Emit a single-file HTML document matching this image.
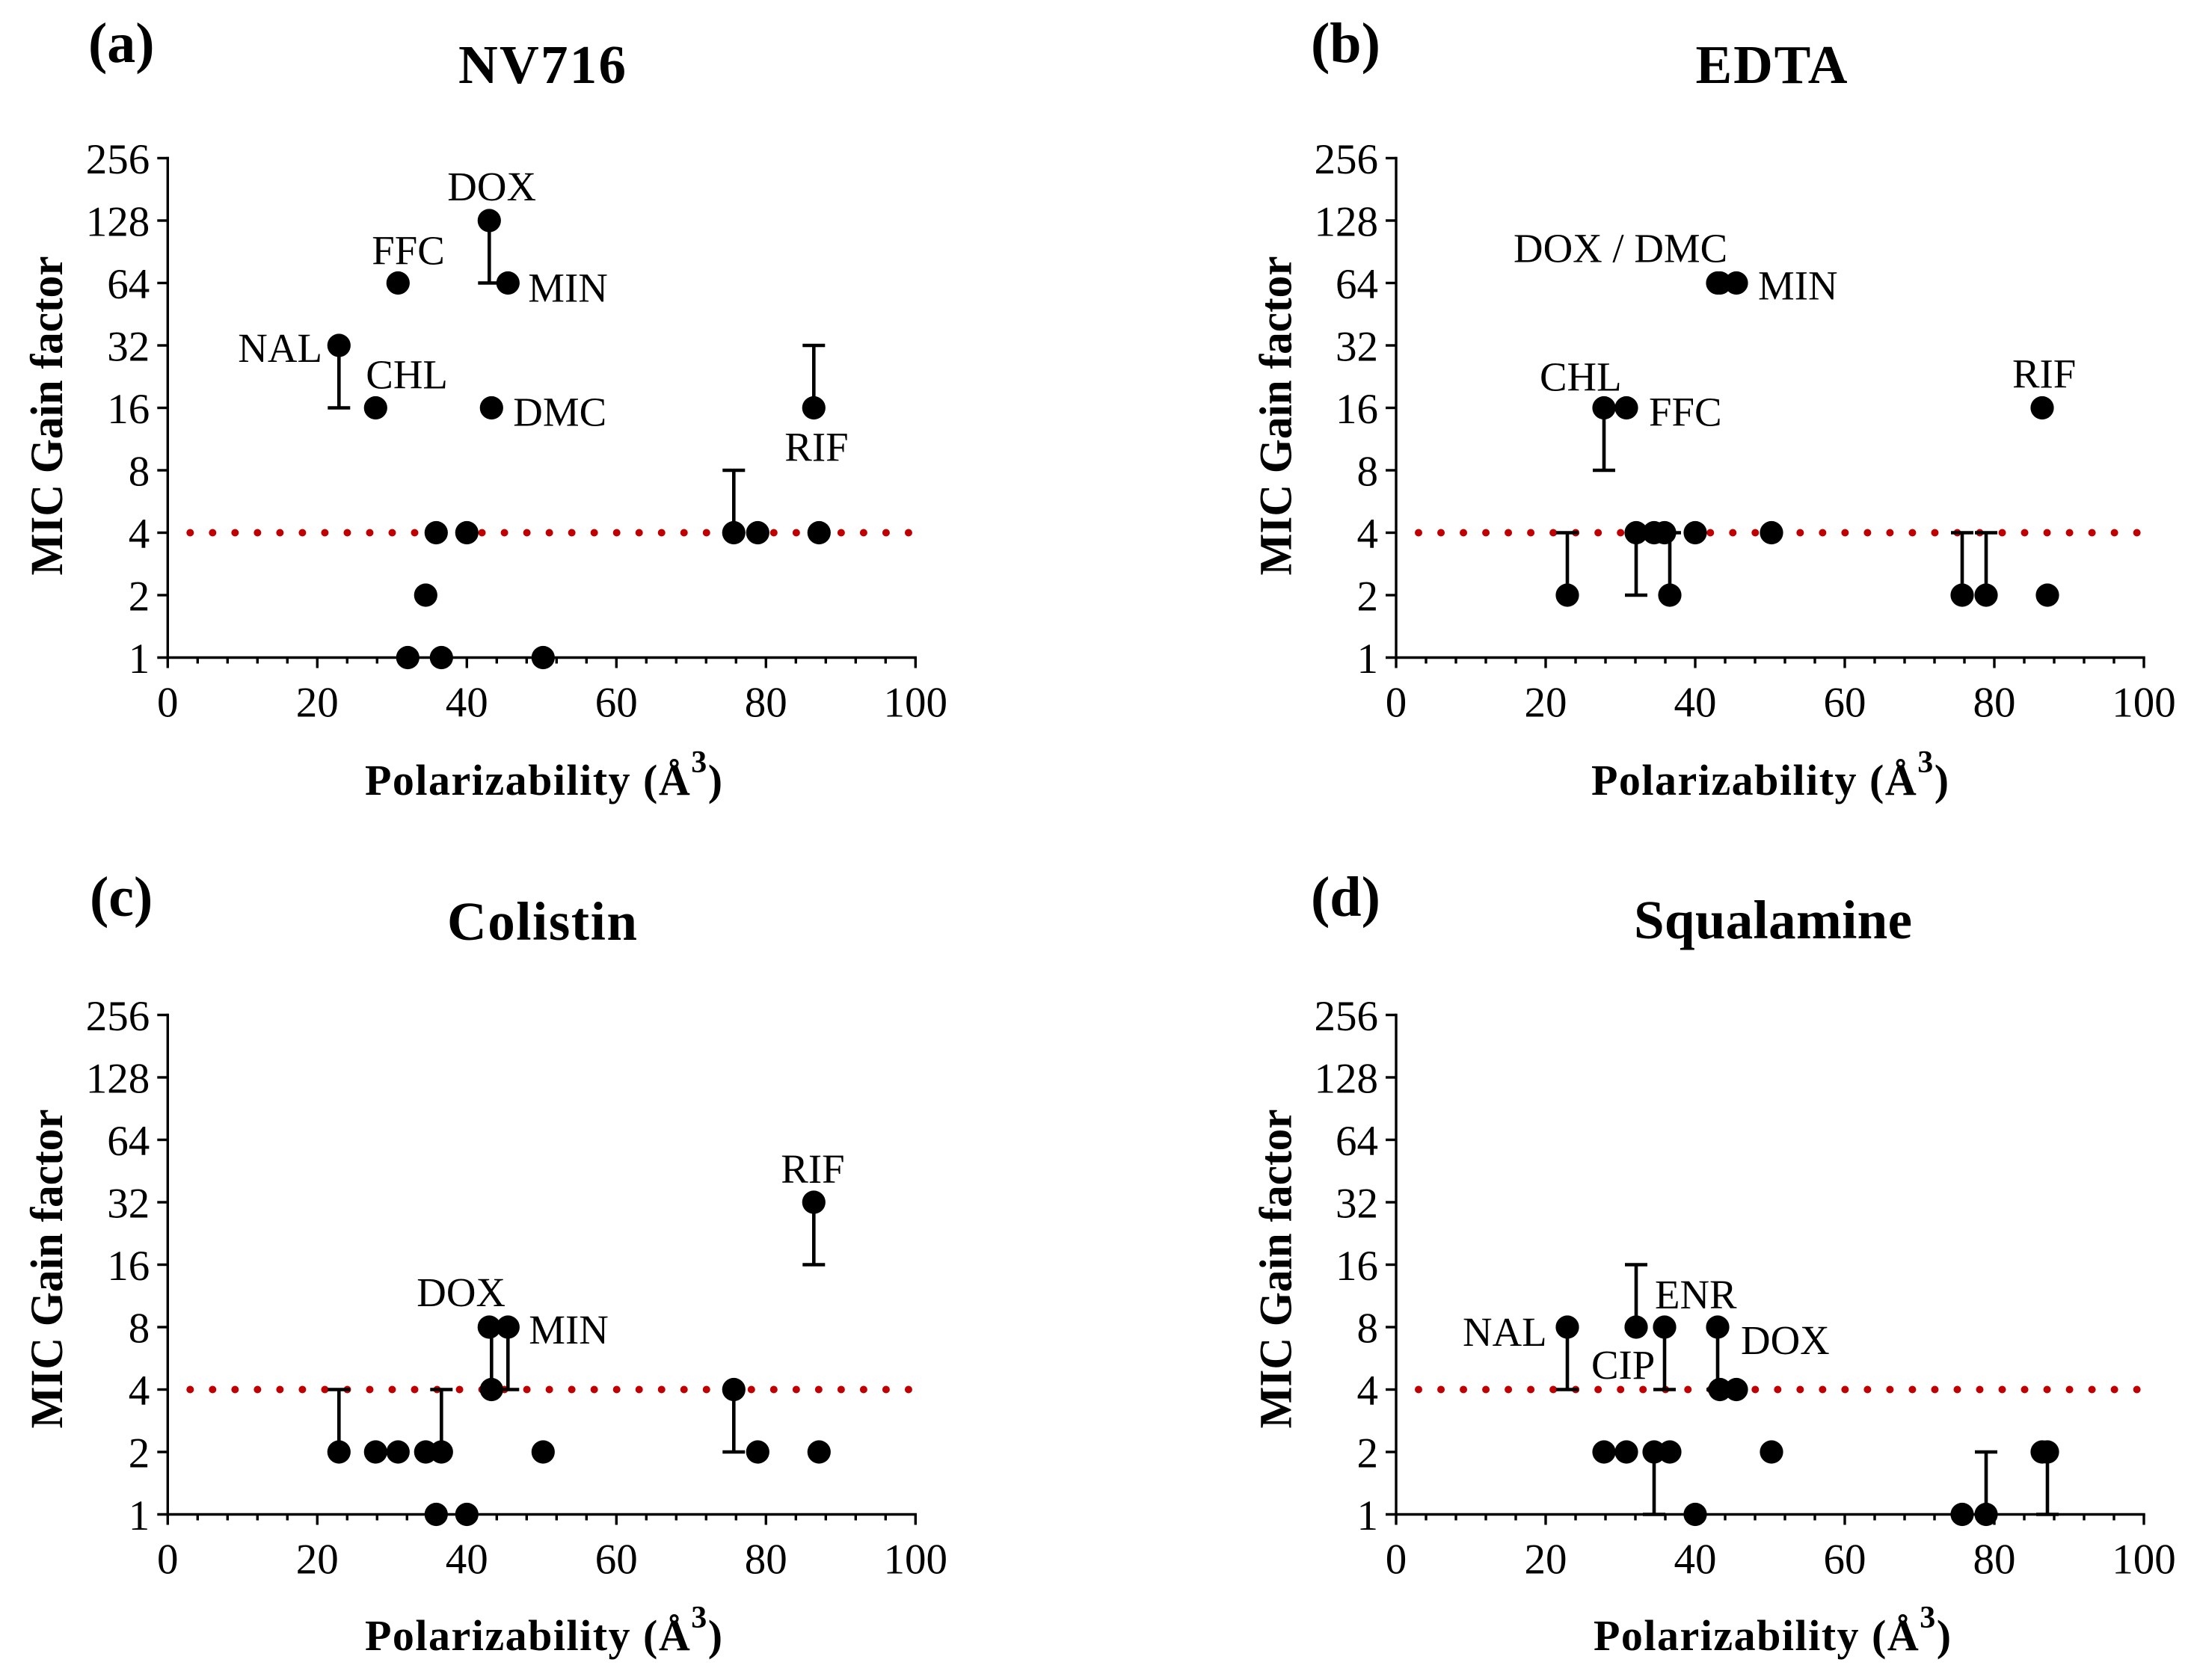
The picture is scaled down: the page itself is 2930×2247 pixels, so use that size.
<!DOCTYPE html>
<html lang="en">
<head>
<meta charset="utf-8">
<title>MIC gain factor versus polarizability</title>
<style>
html,body{margin:0;padding:0;background:#fff;width:2930px;height:2247px;overflow:hidden}
svg{display:block;font-family:"Liberation Serif","Times New Roman",serif}
</style>
</head>
<body>
<svg id="figure" xmlns="http://www.w3.org/2000/svg" width="2930" height="2247" viewBox="0 0 2930 2247"></svg>
<script>
// ---- chart data ----
const polarizability = [22.9,27.8,30.8,32.1,34.5,35.9,36.6,40.0,43.0,43.3,45.5,50.2,75.7,78.9,86.4,87.1];

const gainNV716      = [32,16,64,1,2,4,1,4,128,16,64,1,4,4,16,4];
const errorNV716     = [16,null,null,null,null,null,null,null,64,null,null,null,8,null,32,null];

const gainEDTA       = [2,16,16,4,4,4,2,4,64,64,64,4,2,2,16,2];
const errorEDTA      = [4,8,null,2,null,null,4,null,null,null,null,null,4,4,null,null];

const gainColistin   = [2,2,2,null,2,1,2,1,8,4,8,2,4,2,32,2];
const errorColistin  = [4,null,null,null,null,null,4,null,null,8,4,null,2,null,16,null];

const gainSqualamine = [8,2,2,8,2,8,2,1,8,4,4,2,1,1,2,2];
const errorSqualamine= [4,null,null,16,1,4,null,null,4,null,null,null,null,2,null,1];

const yTickLabels = [1,2,4,8,16,32,64,128,256];
const xTickLabels = [0,20,40,60,80,100];
const threshold = 4;

const labelsNV716      = ["NAL","CHL","FFC",null,null,null,null,null,"DOX","DMC","MIN",null,null,null,"RIF",null];
const labelsEDTA       = [null,"CHL","FFC",null,null,null,null,null,"DOX / DMC",null,"MIN",null,null,null,"RIF",null];
const labelsColistin   = [null,null,null,null,null,null,null,null,"DOX",null,"MIN",null,null,null,"RIF",null];
const labelsSqualamine = ["NAL",null,null,"CIP",null,"ENR",null,null,"DOX",null,null,null,null,null,null,null];

// ---- layout ----
const NS = "http://www.w3.org/2000/svg";
const svg = document.getElementById("figure");
const plotW = 1000, octave = 83.5, xMax = 100;

const panels = [
  {key:"a", letter:"(a)", title:"NV716", gain:gainNV716, err:errorNV716, labels:labelsNV716,
   x0:224.3, y1:879.5, letterX:118, letterY:83, titleX:725, titleY:111, titleW:224,
   xTitleX:488, xTitleY:1063, yTitleX:83, yTitleY:556,
   offsets:{0:[-135,22],1:[-13,-26],2:[-35,-25],8:[-56,-27],9:[29,24],10:[27,25],14:[-39,71]}},
  {key:"b", letter:"(b)", title:"EDTA", gain:gainEDTA, err:errorEDTA, labels:labelsEDTA,
   x0:1867, y1:879.5, letterX:1753, letterY:83, titleX:2369, titleY:111, titleW:203,
   xTitleX:2128, xTitleY:1063, yTitleX:1726.5, yTitleY:556,
   offsets:{1:[-86,-23],2:[30,24],8:[-273,-28],10:[29,22],14:[-40,-27]}},
  {key:"c", letter:"(c)", title:"Colistin", gain:gainColistin, err:errorColistin, labels:labelsColistin,
   x0:224.3, y1:2025.5, letterX:120, letterY:1225, titleX:725, titleY:1257, titleW:254,
   xTitleX:488, xTitleY:2207, yTitleX:83, yTitleY:1697,
   offsets:{8:[-97,-28],10:[28,22],14:[-44,-26]}},
  {key:"d", letter:"(d)", title:"Squalamine", gain:gainSqualamine, err:errorSqualamine, labels:labelsSqualamine,
   x0:1867, y1:2025.5, letterX:1753, letterY:1225, titleX:2371, titleY:1255, titleW:372,
   xTitleX:2131, xTitleY:2207, yTitleX:1726.5, yTitleY:1697,
   offsets:{0:[-140,25],3:[-60,69],5:[-13,-25],8:[31,36]}}
];

function mk(parent, tag, attrs, text){
  const el = document.createElementNS(NS, tag);
  for (const k in attrs) el.setAttribute(k, attrs[k]);
  if (text !== undefined) el.textContent = text;
  parent.appendChild(el);
  return el;
}

panels.forEach(function(p){
  const X = function(v){ return p.x0 + v / xMax * plotW; };
  const Y = function(f){ return p.y1 - Math.log2(f) * octave; };

  const g = mk(svg, "g", {});
  
  

  const letter = mk(g, "text", {x:p.letterX, y:p.letterY, "font-size":76, "font-weight":"bold"}, p.letter);
  
  

  const title = mk(g, "text", {x:p.titleX, y:p.titleY, "font-size":73, "font-weight":"bold", "text-anchor":"middle", textLength:p.titleW}, p.title);
  
  

  // threshold line: dotted, first dot one period after the origin
  const thr = mk(g, "line", {x1:X(3), x2:X(99.2), y1:Y(threshold), y2:Y(threshold), stroke:"#c00000", "stroke-width":10, "stroke-linecap":"round", "stroke-dasharray":"0 30.02"});
  
  

  // axes
  const axes = mk(g, "g", {stroke:"#000", "stroke-width":3.4, fill:"none"});
  
  
  const yAxis = mk(axes, "line", {x1:X(0), x2:X(0), y1:Y(256)-1.7, y2:p.y1+14});
  
  
  const xAxis = mk(axes, "line", {x1:X(0)-14, x2:X(xMax)+1.7, y1:p.y1, y2:p.y1});
  
  

  yTickLabels.forEach(function(t){
    if (t !== 1) {
      const tick = mk(axes, "line", {x1:X(0)-14, x2:X(0), y1:Y(t), y2:Y(t)});
      
      
    }
    const lab = mk(g, "text", {x:X(0)-24, y:Y(t)+20.5, "font-size":57, "text-anchor":"end"}, t);
    
    
  });
  for (let v = 4; v <= xMax; v += 4) {
    const major = v % 20 === 0;
    const tick = mk(axes, "line", {x1:X(v), x2:X(v), y1:p.y1, y2:p.y1 + (major ? 14 : 8)});
    
    
  }
  xTickLabels.forEach(function(t){
    const lab = mk(g, "text", {x:X(t), y:p.y1+79, "font-size":57, "text-anchor":"middle"}, t);
    
    
  });

  // axis titles
  const xt = mk(g, "text", {x:p.xTitleX, y:p.xTitleY, "font-size":58, "font-weight":"bold", "letter-spacing":1.5});
  
  
  mk(xt, "tspan", {}, "Polarizability (\u00C5");
  mk(xt, "tspan", {"font-size":42, dy:-30}, "3");
  mk(xt, "tspan", {dy:30}, ")");

  const yt = mk(g, "text", {x:p.yTitleX, y:p.yTitleY, "font-size":61, "font-weight":"bold", "text-anchor":"middle", textLength:427, lengthAdjust:"spacingAndGlyphs", transform:"rotate(-90 "+p.yTitleX+" "+p.yTitleY+")"}, "MIC Gain factor");
  
  

  // error bars
  polarizability.forEach(function(v, i){
    if (p.err[i] === null || p.gain[i] === null) return;
    const bar = mk(g, "g", {stroke:"#000", "stroke-width":4.6, fill:"none"});
    
    
    mk(bar, "line", {x1:X(v), x2:X(v), y1:Y(p.gain[i]), y2:Y(p.err[i])});
    mk(bar, "line", {x1:X(v)-15, x2:X(v)+15, y1:Y(p.err[i]), y2:Y(p.err[i])});
  });

  // points
  polarizability.forEach(function(v, i){
    if (p.gain[i] === null) return;
    const dot = mk(g, "circle", {cx:X(v), cy:Y(p.gain[i]), r:15.6, fill:"#000"});
    
    
  });

  // point labels, anchored to their points
  p.labels.forEach(function(name, i){
    if (!name) return;
    const off = p.offsets[i];
    const t = mk(g, "text", {x:X(polarizability[i]) + off[0], y:Y(p.gain[i]) + off[1], "font-size":54.8}, name);
    
    
  });
});
</script>
</body>
</html>
